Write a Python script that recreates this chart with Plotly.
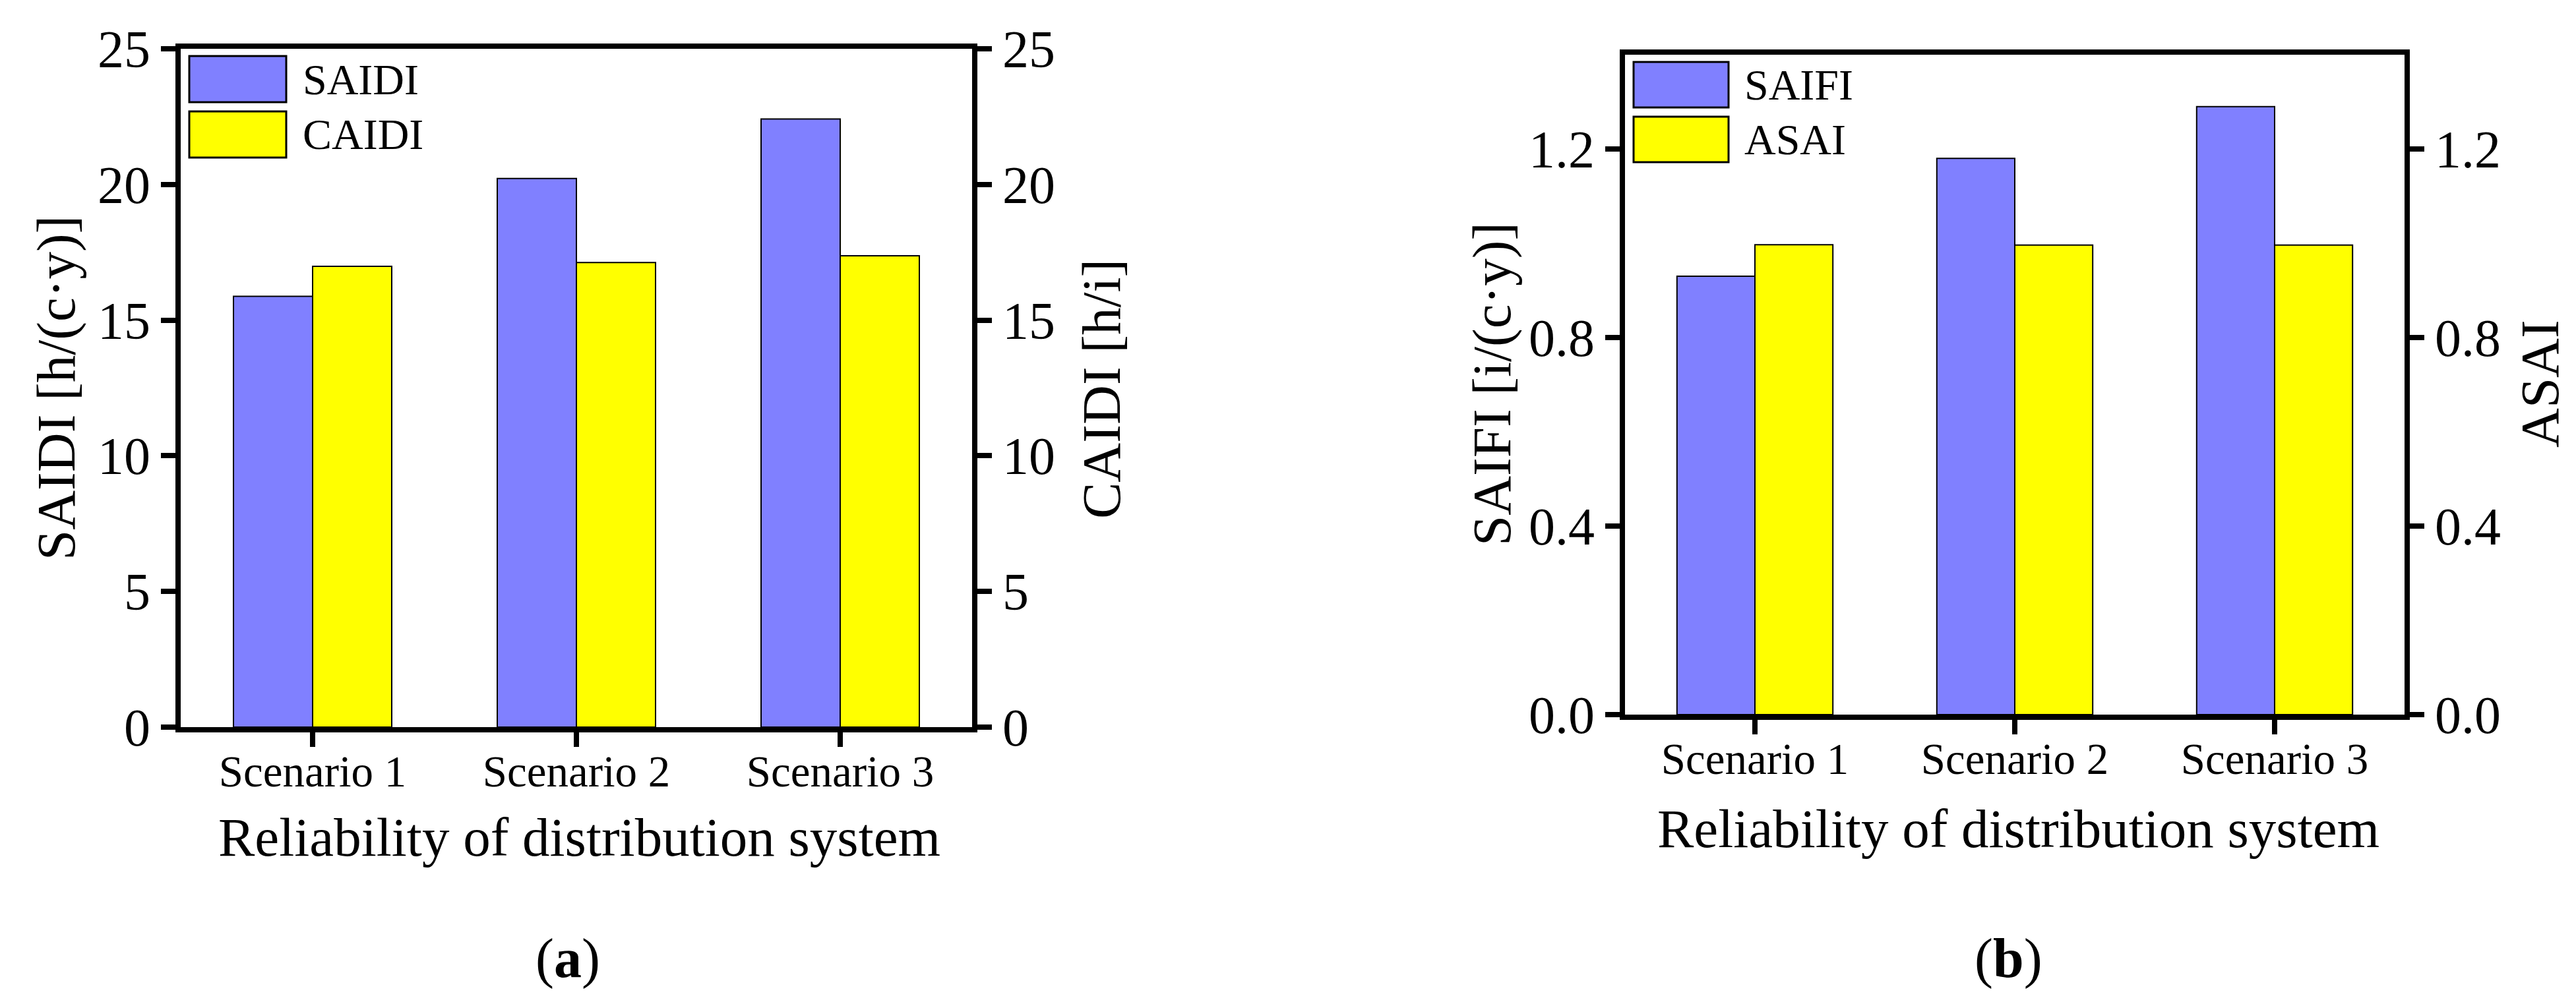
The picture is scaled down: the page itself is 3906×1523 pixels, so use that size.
import plotly.graph_objects as go

# data
scenarios = ["Scenario 1", "Scenario 2", "Scenario 3"]
saidi = [15.88, 20.22, 22.41]     # h/(c·y)
caidi = [16.98, 17.12, 17.37]     # h/i
saifi = [0.930, 1.180, 1.290]     # i/(c·y)
asai = [0.997, 0.996, 0.996]

W, H = 3906, 1523
BLUE, YELLOW = "#8080FF", "#FFFF00"
SERIF = "Liberation Serif, Times New Roman, serif"
LW = 8


def px(x):
    return x / W


def py(y):
    return 1 - y / H


def bar(x, y, name, color, offset, xa, ya):
    return go.Bar(x=x, y=y, name=name, xaxis=xa, yaxis=ya, width=0.3, offset=offset,
                  marker=dict(color=color, line=dict(color="black", width=2)),
                  showlegend=False)


fig = go.Figure()
fig.add_trace(bar(scenarios, saidi, "SAIDI", BLUE, -0.3, "x", "y"))
fig.add_trace(bar(scenarios, caidi, "CAIDI", YELLOW, 0.0, "x", "y2"))
fig.add_trace(bar(scenarios, saifi, "SAIFI", BLUE, -0.3, "x2", "y3"))
fig.add_trace(bar(scenarios, asai, "ASAI", YELLOW, 0.0, "x2", "y4"))

tick_font = dict(family=SERIF, size=80, color="black")
xcommon = dict(range=[-0.5, 2.5], showline=True, linewidth=LW, linecolor="black", mirror=True,
               ticks="outside", ticklen=22, tickwidth=8, tickcolor="black", automargin=False,
               ticklabelstandoff=-20,
               tickfont=dict(family=SERIF, size=67, color="black"), showgrid=False, zeroline=False)
ycommon = dict(showline=True, linewidth=LW, linecolor="black", ticks="outside", ticklen=22,
               tickwidth=8, tickcolor="black", tickfont=tick_font, showgrid=False,
               zeroline=False, automargin=False)

dom_a = [px(266), px(1466)]
dom_b = [px(2456), px(3638)]
ydom_a = [py(1095), py(66)]
ydom_b = [py(1076), py(75)]

fig.update_layout(
    template="none",
    width=W, height=H, autosize=False,
    margin=dict(l=0, r=0, t=0, b=0, autoexpand=False),
    paper_bgcolor="white", plot_bgcolor="white",
    barmode="overlay", showlegend=False,
    font=dict(family=SERIF, color="black"),
    xaxis=dict(xcommon, domain=dom_a, anchor="y"),
    yaxis=dict(ycommon, domain=ydom_a, anchor="x", range=[0, 25], dtick=5),
    yaxis2=dict(ycommon, domain=ydom_a, anchor="x", overlaying="y", side="right",
                range=[0, 25], dtick=5),
    xaxis2=dict(xcommon, domain=dom_b, anchor="y3"),
    yaxis3=dict(ycommon, domain=ydom_b, anchor="x2", range=[0, 1.4], dtick=0.4,
                tickformat=".1f"),
    yaxis4=dict(ycommon, domain=ydom_b, anchor="x2", overlaying="y3", side="right",
                range=[0, 1.4], dtick=0.4, tickformat=".1f"),
)

# hand-drawn legends (Origin-style large swatches)
legends = [
    (279, 426, [(77, 147, BLUE, "SAIDI"), (161, 231, YELLOW, "CAIDI")], 449),
    (2469, 2613, [(86, 155, BLUE, "SAIFI"), (169, 238, YELLOW, "ASAI")], 2635),
]
for x0, x1, items, tx in legends:
    for y0, y1, col, label in items:
        fig.add_shape(type="rect", xref="paper", yref="paper",
                      x0=px(x0), x1=px(x1), y0=py(y1), y1=py(y0),
                      fillcolor=col, line=dict(color="black", width=3))
        fig.add_annotation(text=label, xref="paper", yref="paper", x=px(tx), y=py((y0 + y1) / 2),
                           xanchor="left", yanchor="middle", showarrow=False,
                           font=dict(family=SERIF, size=66, color="black"))

title_font = dict(family=SERIF, size=83, color="black")
titles = [
    ("SAIDI [h/(c·y)]", 77, 581, -90),
    ("CAIDI [h/i]", 1662, 582, -90),
    ("SAIFI [i/(c·y)]", 2254, 575, -90),
    ("ASAI", 3843, 574, -90),
    ("Reliability of distribution system", 870, 1262, 0),
    ("Reliability of distribution system", 3052, 1249, 0),
]
for text, x, y, ang in titles:
    fig.add_annotation(text=text, xref="paper", yref="paper", x=px(x), y=py(y),
                       xanchor="center", yanchor="middle", textangle=ang, showarrow=False,
                       font=title_font)

for text, x in [("(<b>a</b>)", 853), ("(<b>b</b>)", 3037)]:
    fig.add_annotation(text=text, xref="paper", yref="paper", x=px(x), y=py(1446),
                       xanchor="center", yanchor="middle", showarrow=False,
                       font=dict(family=SERIF, size=84, color="black"))

fig.write_html("out.html")
